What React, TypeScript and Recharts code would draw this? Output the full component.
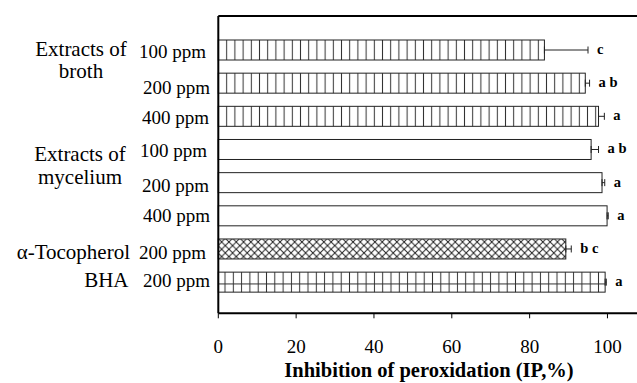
import React from "react";
import { BarChart, Bar, XAxis, YAxis, ErrorBar, Label } from "recharts";

// ---- data ----
const doseLabels = ["100 ppm", "200 ppm", "400 ppm", "100 ppm", "200 ppm", "400 ppm", "200 ppm", "200 ppm"];
const groupLabels = [["Extracts of", "broth"], [], [], ["Extracts of", "mycelium"], [], [], ["α-Tocopherol"], ["BHA"]];
const ipValues = [83.8, 94.3, 97.7, 95.8, 98.6, 99.9, 89.3, 99.4];
const ipErrors = [11.2, 1.1, 1.5, 1.9, 0.7, 0.3, 1.4, 0.3];
const significance = ["c", "a b", "a", "a b", "a", "a", "b c", "a"];
const xTicks = [0, 20, 40, 60, 80, 100];
const xTitle = "Inhibition of peroxidation (IP,%)";

const rows = doseLabels.map((d, i) => ({
  id: String(i),
  ip: ipValues[i],
  err: [0, ipErrors[i]],
  errVal: ipErrors[i],
  sig: significance[i],
}));

// ---- styles ----
const FONT = "'Liberation Serif', 'Times New Roman', serif";
const rowFill = ["url(#vl)", "url(#vl)", "url(#vl)", "#fff", "#fff", "#fff", "url(#cross)", "url(#grid)"];
const doseDy = [8.8, 10.8, 8, 8.4, 9.3, 6.7, 10, 5.3];
const doseX = [206, 210, 209, 207, 209, 210, 206, 210];
const groupStyle = [
  { anchor: "middle", x: 81, dy: [6.5, 28.5] },
  null,
  null,
  { anchor: "middle", x: 80, dy: [11.7, 35] },
  null,
  null,
  { anchor: "end", x: 130, dy: [10] },
  { anchor: "end", x: 128.5, dy: [5] },
];

const YTick = (props: any) => {
  const { y, payload } = props;
  const i = Number(payload.value);
  const g = groupStyle[i];
  return (
    <g>
      <text x={doseX[i]} y={y + doseDy[i]} textAnchor="end" fontSize={19} fontFamily={FONT} fill="#000">
        {doseLabels[i]}
      </text>
      {g &&
        groupLabels[i].map((t, k) => (
          <text key={k} x={g.x} y={y + g.dy[k]} textAnchor={g.anchor} fontSize={21} fontFamily={FONT} fill="#000">
            {t}
          </text>
        ))}
    </g>
  );
};

const XTick = (props: any) => {
  const { x, y, payload } = props;
  return (
    <text x={x} y={y + 33} textAnchor="middle" fontSize={19} fontFamily={FONT} fill="#000">
      {payload.value}
    </text>
  );
};

const BarShape = (props: any) => {
  const { x, y, width, height, payload } = props;
  const i = Number(payload.id);
  const pxPerUnit = width / payload.ip;
  const labelX = x + pxPerUnit * (payload.ip + payload.errVal) + 9;
  return (
    <g>
      <rect x={x} y={y} width={width} height={height} fill={rowFill[i]} stroke="#222" strokeWidth={1} />
      {i === 7 && (
        <line x1={x} x2={x + width} y1={y + height * 0.59} y2={y + height * 0.59} stroke="#333" strokeWidth={1} />
      )}
      <text x={labelX} y={y + height / 2 + 4} fontFamily={FONT} fontWeight="bold" fontSize={14.5} fill="#000">
        {payload.sig}
      </text>
    </g>
  );
};

const XTitle = (props: any) => {
  return (
    <text x={429} y={376.5} textAnchor="middle" fontFamily={FONT} fontWeight="bold" fontSize={20.5} fill="#000">
      {xTitle}
    </text>
  );
};

export default function App() {
  return (
    <div style={{ position: "absolute", left: 0, top: 0, width: 637, height: 383, overflow: "hidden", background: "#fff" }}>
      <svg width={0} height={0} style={{ position: "absolute" }}>
        <defs>
          <pattern id="vl" patternUnits="userSpaceOnUse" x={222.6} y={0} width={8.2} height={10}>
            <rect x={0} y={0} width={8.2} height={10} fill="#fff" />
            <line x1={4.1} x2={4.1} y1={0} y2={10} stroke="#333" strokeWidth={1} />
          </pattern>
          <pattern id="grid" patternUnits="userSpaceOnUse" x={220.85} y={0} width={8.3} height={10}>
            <rect x={0} y={0} width={8.3} height={10} fill="#fff" />
            <line x1={4.15} x2={4.15} y1={0} y2={10} stroke="#333" strokeWidth={1} />
          </pattern>
          <pattern id="cross" patternUnits="userSpaceOnUse" x={218} y={238.3} width={7.3} height={7.3}>
            <rect x={0} y={0} width={7.3} height={7.3} fill="#fff" />
            <line x1={0} y1={0} x2={7.3} y2={7.3} stroke="#222" strokeWidth={1} />
            <line x1={7.3} y1={0} x2={0} y2={7.3} stroke="#222" strokeWidth={1} />
          </pattern>
        </defs>
      </svg>
      <BarChart width={720} height={383} data={rows} layout="vertical" margin={{ top: 15, right: 34.7, bottom: 0, left: 0 }}>
        <XAxis type="number" xAxisId="bottom" domain={[0, 120]} ticks={xTicks} height={69.7}
          axisLine={{ stroke: "#000", strokeWidth: 2 }} tickLine={{ stroke: "#000", strokeWidth: 1 }} tickSize={5} tick={<XTick />} interval={0}>
          <Label content={<XTitle />} />
        </XAxis>
        <XAxis type="number" xAxisId="top" orientation="top" domain={[0, 120]} height={1} tick={false} tickLine={false}
          axisLine={{ stroke: "#000", strokeWidth: 2 }} />
        <YAxis type="category" dataKey="id" width={218.3} padding={{ top: 17, bottom: 15 }}
          axisLine={{ stroke: "#000", strokeWidth: 2 }} tickLine={false} tick={<YTick />} interval={0} />
        <Bar dataKey="ip" xAxisId="bottom" barSize={20} shape={<BarShape />} isAnimationActive={false}>
          <ErrorBar dataKey="err" direction="x" width={3.5} stroke="#222" strokeWidth={1} />
        </Bar>
      </BarChart>
    </div>
  );
}
